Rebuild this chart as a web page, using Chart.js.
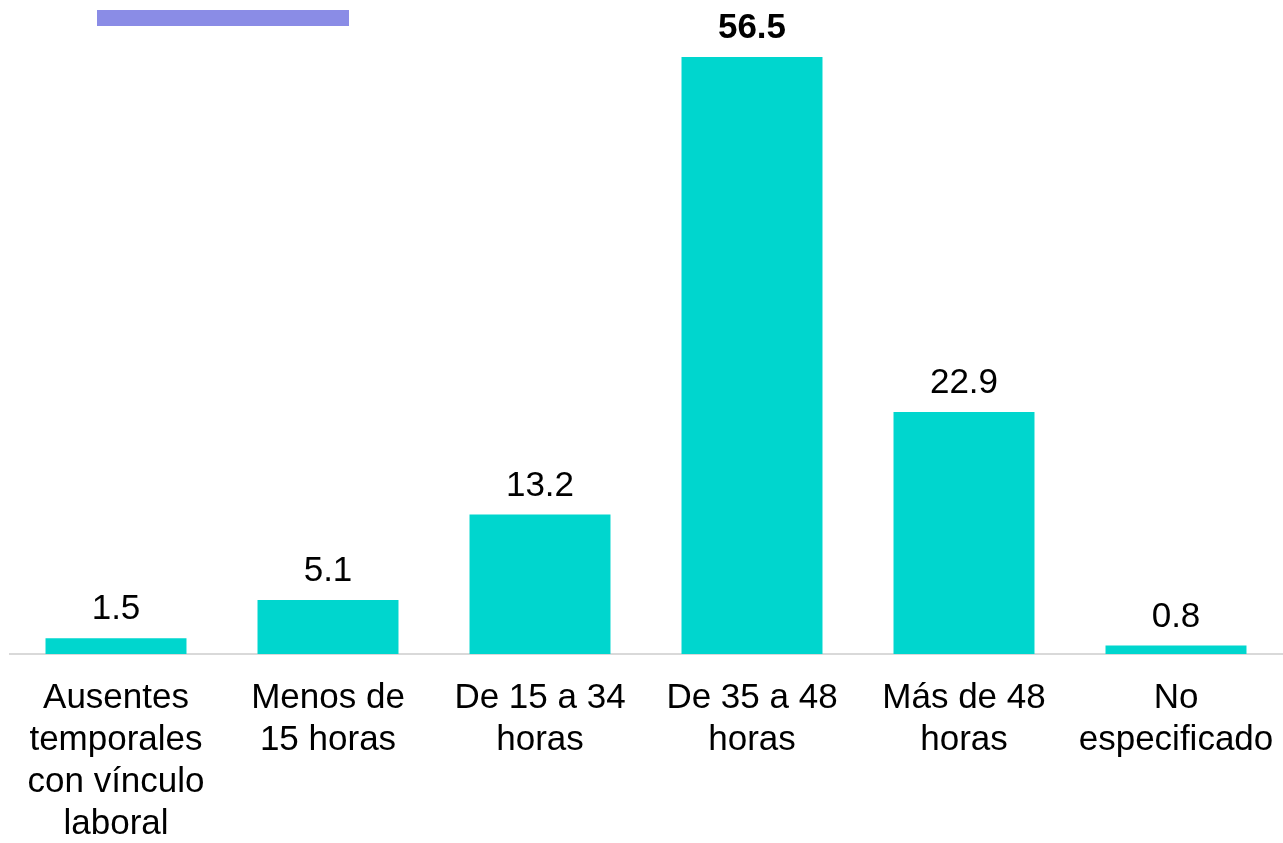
<!DOCTYPE html>
<html>
<head>
<meta charset="utf-8">
<script src="https://cdn.jsdelivr.net/npm/chart.js@4"></script>
<style>
  html, body { margin: 0; padding: 0; background: #ffffff; }
  #wrap { width: 1283px; height: 843px; position: relative; }
</style>
</head>
<body>
<div id="wrap"><canvas id="c"></canvas></div>
<script>
const categories = [
  ["Ausentes", "temporales", "con vínculo", "laboral"],
  ["Menos de", "15 horas"],
  ["De 15 a 34", "horas"],
  ["De 35 a 48", "horas"],
  ["Más de 48", "horas"],
  ["No", "especificado"]
];
const values = [1.5, 5.1, 13.2, 56.5, 22.9, 0.8];
const valueLabels = ["1.5", "5.1", "13.2", "56.5", "22.9", "0.8"];
const boldIndex = 3;

const FONT = '"Liberation Sans", Arial, sans-serif';

const valueLabelPlugin = {
  id: 'valueLabels',
  afterDatasetsDraw(chart) {
    const ctx = chart.ctx;
    const meta = chart.getDatasetMeta(0);
    ctx.save();
    ctx.fillStyle = '#000000';
    ctx.textAlign = 'center';
    ctx.textBaseline = 'alphabetic';
    meta.data.forEach((bar, i) => {
      ctx.font = (i === boldIndex ? 'bold ' : '') + '35px ' + FONT;
      ctx.fillText(valueLabels[i], bar.x, bar.y - 19);
    });
    ctx.restore();
  }
};

const decoPlugin = {
  id: 'deco',
  afterDraw(chart) {
    const ctx = chart.ctx;
    ctx.save();
    ctx.fillStyle = '#8A8CE6';
    ctx.fillRect(97, 10, 252, 16);
    ctx.restore();
  }
};

new Chart(document.getElementById('c'), {
  type: 'bar',
  data: {
    labels: categories,
    datasets: [{
      data: values,
      backgroundColor: '#00D6CE',
      borderWidth: 0,
      categoryPercentage: 1.0,
      barPercentage: 0.665
    }]
  },
  options: {
    responsive: true,
    maintainAspectRatio: false,
    animation: false,
    layout: { padding: { left: 10, right: 1, top: 20, bottom: 2 } },
    plugins: {
      legend: { display: false },
      tooltip: { enabled: false }
    },
    scales: {
      x: {
        grid: { display: false, drawTicks: false },
        border: { display: true, color: '#d9d9d9', width: 2 },
        ticks: {
          color: '#000000',
          font: { family: FONT, size: 35, lineHeight: 1.2 },
          padding: 23,
          autoSkip: false,
          maxRotation: 0,
          minRotation: 0
        },
        afterFit(scale) {
          scale.height = 187;
          scale.paddingLeft = 0;
          scale.paddingRight = 0;
        }
      },
      y: {
        display: false,
        min: 0,
        max: 60
      }
    }
  },
  plugins: [valueLabelPlugin, decoPlugin]
});
</script>
</body>
</html>
